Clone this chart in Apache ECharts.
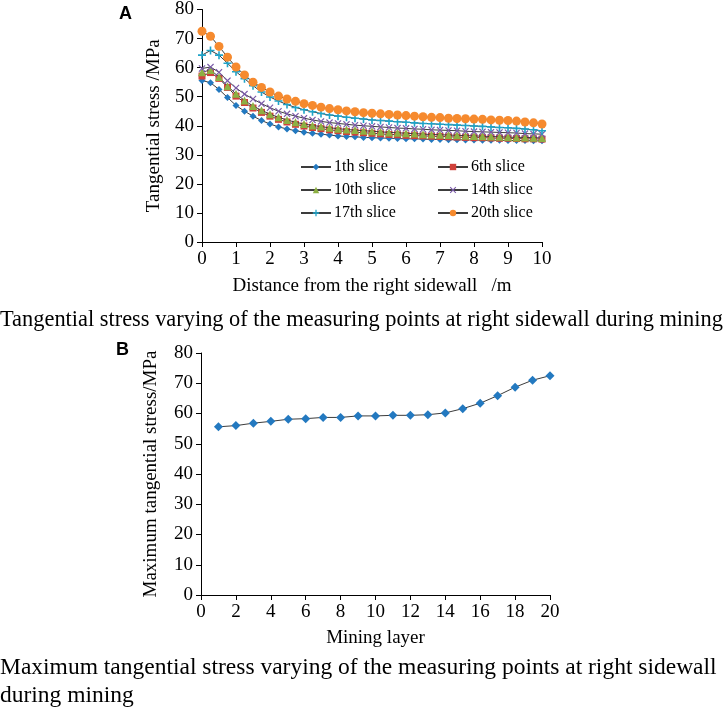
<!DOCTYPE html>
<html>
<head>
<meta charset="utf-8">
<script src="https://cdn.jsdelivr.net/npm/echarts@6/dist/echarts.min.js"></script>
<style>
html,body{margin:0;padding:0;background:#fff;}
#chart{width:726px;height:712px;}
</style>
</head>
<body>
<div id="chart"></div>
<script>
// ---------- Panel A data ----------
const distance = [0,0.25,0.5,0.75,1,1.25,1.5,1.75,2,2.25,2.5,2.75,3,3.25,3.5,3.75,4,4.25,4.5,4.75,5,5.25,5.5,5.75,6,6.25,6.5,6.75,7,7.25,7.5,7.75,8,8.25,8.5,8.75,9,9.25,9.5,9.75,10];
const sliceNames = ['1th slice','6th slice','10th slice','14th slice','17th slice','20th slice'];
const slice1  = [55.6,54.8,52.5,49.7,47.0,45.0,43.3,41.8,40.6,39.6,38.9,38.3,37.8,37.4,37.1,36.8,36.5,36.3,36.2,36.0,35.9,35.8,35.7,35.6,35.5,35.5,35.4,35.3,35.3,35.2,35.2,35.1,35.1,35.0,35.0,35.0,34.9,34.9,34.9,34.8,34.8];
const slice6  = [57.1,58.3,56.3,53.2,50.2,48.0,46.1,44.6,43.3,42.2,41.3,40.5,39.9,39.4,39.0,38.6,38.3,38.0,37.8,37.6,37.4,37.2,37.0,36.9,36.7,36.6,36.5,36.4,36.3,36.2,36.1,36.0,35.9,35.9,35.8,35.7,35.7,35.6,35.5,35.5,35.4];
const slice10 = [58.4,59.2,56.8,53.6,51.0,48.7,46.8,45.3,44.0,42.9,42.0,41.2,40.6,40.1,39.7,39.3,39.0,38.7,38.5,38.3,38.1,37.9,37.7,37.6,37.4,37.3,37.1,37.0,36.9,36.8,36.7,36.6,36.5,36.4,36.3,36.2,36.1,36.0,36.0,35.9,35.8];
const slice14 = [59.7,60.2,58.4,55.5,53.0,50.9,49.2,47.6,46.2,45.0,44.1,43.3,42.6,42.0,41.5,41.1,40.8,40.5,40.2,40.0,39.8,39.6,39.4,39.2,39.1,38.9,38.8,38.6,38.5,38.4,38.3,38.1,38.0,37.9,37.8,37.7,37.6,37.5,37.3,37.2,37.1];
const slice17 = [64.3,65.9,64.3,61.5,58.6,56.2,53.8,51.6,49.9,48.5,47.3,46.3,45.5,44.8,44.2,43.7,43.3,42.9,42.6,42.3,42.0,41.8,41.6,41.4,41.2,41.0,40.8,40.7,40.5,40.4,40.2,40.1,39.9,39.8,39.6,39.4,39.3,39.1,38.9,38.6,38.3];
const slice20 = [72.5,70.8,67.3,63.6,60.2,57.5,55.0,53.2,51.6,50.2,49.2,48.4,47.6,47.0,46.4,45.9,45.5,45.1,44.8,44.5,44.3,44.1,43.9,43.7,43.5,43.3,43.1,42.9,42.8,42.6,42.5,42.4,42.3,42.2,42.0,41.9,41.8,41.6,41.3,41.0,40.6];

// ---------- Panel B data ----------
const miningLayer = [1,2,3,4,5,6,7,8,9,10,11,12,13,14,15,16,17,18,19,20];
const maxStress = [55.6,56.0,56.8,57.4,58.1,58.3,58.7,58.7,59.2,59.2,59.4,59.4,59.6,60.2,61.6,63.4,65.9,68.7,71.0,72.5];

// ---------- styles ----------
const serif = '"Liberation Serif","Times New Roman",serif';
const sliceData = [slice1, slice6, slice10, slice14, slice17, slice20];
const colors = ['#2379C0','#D0413A','#8DB043','#7A5AA8','#1FA3C8','#F68A2E'];
const plusPath = 'path://M4,0H6V4H10V6H6V10H4V6H0V4H4Z';
const crossPath = 'path://M1.2,0L5,3.8L8.8,0L10,1.2L6.2,5L10,8.8L8.8,10L5,6.2L1.2,10L0,8.8L3.8,5L0,1.2Z';
const symbols = ['diamond','rect','triangle',crossPath,plusPath,'circle'];
const symbolSizes = [7,7,8,7,8,9];
const lineColor = '#3c3c3c';

function axisCommon() {
  return {
    axisLine: {show: true, lineStyle: {color: '#000', width: 1}},
    axisTick: {show: true, inside: false, length: 5, lineStyle: {color: '#000'}},
    axisLabel: {color: '#000', fontFamily: serif, fontSize: 19},
    splitLine: {show: false},
    nameTextStyle: {color: '#000', fontFamily: serif, fontSize: 19}
  };
}

const series = sliceNames.map((name, k) => ({
  name: name,
  type: 'line',
  xAxisIndex: 0, yAxisIndex: 0,
  data: distance.map((d, i) => [d, sliceData[k][i]]),
  symbol: symbols[k],
  symbolSize: symbolSizes[k],
  showAllSymbol: true,
  lineStyle: {color: lineColor, width: 1},
  itemStyle: {color: colors[k]},
  z: 2 + k,
  animation: false
}));

series.push({
  name: 'max',
  type: 'line',
  xAxisIndex: 1, yAxisIndex: 1,
  data: miningLayer.map((m, i) => [m, maxStress[i]]),
  symbol: 'diamond',
  symbolSize: 9,
  lineStyle: {color: lineColor, width: 1},
  itemStyle: {color: '#2379C0'},
  animation: false
});

const legendPos = [
  [300, 159], [437, 159],
  [300, 182], [437, 182],
  [300, 205], [437, 205]
];
const legends = sliceNames.map((n, k) => ({
  data: [n],
  left: legendPos[k][0],
  top: legendPos[k][1],
  padding: 0,
  itemWidth: 30,
  itemHeight: 8,
  itemGap: 0,
  selectedMode: false,
  textStyle: {color: '#000', fontFamily: serif, fontSize: 16, padding: [0,0,0,-2]}
}));

const option = {
  animation: false,
  backgroundColor: '#fff',
  title: [
    {text: 'A', left: 114, top: 0, textStyle: {fontFamily: '"Liberation Sans",Arial,sans-serif', fontWeight: 'bold', fontSize: 18, color: '#000'}},
    {text: 'B', left: 111, top: 336, textStyle: {fontFamily: '"Liberation Sans",Arial,sans-serif', fontWeight: 'bold', fontSize: 18, color: '#000'}},
    {text: 'Tangential stress varying of the measuring points at right sidewall during mining', left: 0, top: 309, padding: [0,0,0,0],
     textStyle: {fontFamily: serif, fontWeight: 'normal', fontSize: 22.4, color: '#000'}},
    {text: 'Maximum tangential stress varying of the measuring points at right sidewall\nduring mining', left: 0, top: 654, padding: [0,0,0,0],
     textStyle: {fontFamily: serif, fontWeight: 'normal', fontSize: 23.5, lineHeight: 28, color: '#000'}}
  ],
  legend: legends,
  grid: [
    {left: 202, top: 6, width: 340, height: 236},
    {left: 201, top: 353, width: 349, height: 242}
  ],
  xAxis: [
    Object.assign(axisCommon(), {
      gridIndex: 0, type: 'value', min: 0, max: 10, interval: 1,
      name: 'Distance from the right sidewall   /m', nameLocation: 'middle', nameGap: 35
    }),
    Object.assign(axisCommon(), {
      gridIndex: 1, type: 'value', min: 0, max: 20, interval: 2,
      name: 'Mining layer', nameLocation: 'middle', nameGap: 34
    })
  ],
  yAxis: [
    Object.assign(axisCommon(), {
      gridIndex: 0, type: 'value', min: 0, max: 80, interval: 10,
      name: 'Tangential stress /MPa', nameLocation: 'middle', nameGap: 38
    }),
    Object.assign(axisCommon(), {
      gridIndex: 1, type: 'value', min: 0, max: 80, interval: 10,
      name: 'Maximum tangential stress/MPa', nameLocation: 'middle', nameGap: 40
    })
  ],
  series: series
};

const chart = echarts.init(document.getElementById('chart'), null, {renderer: 'canvas'});
chart.setOption(option);
</script>
</body>
</html>
